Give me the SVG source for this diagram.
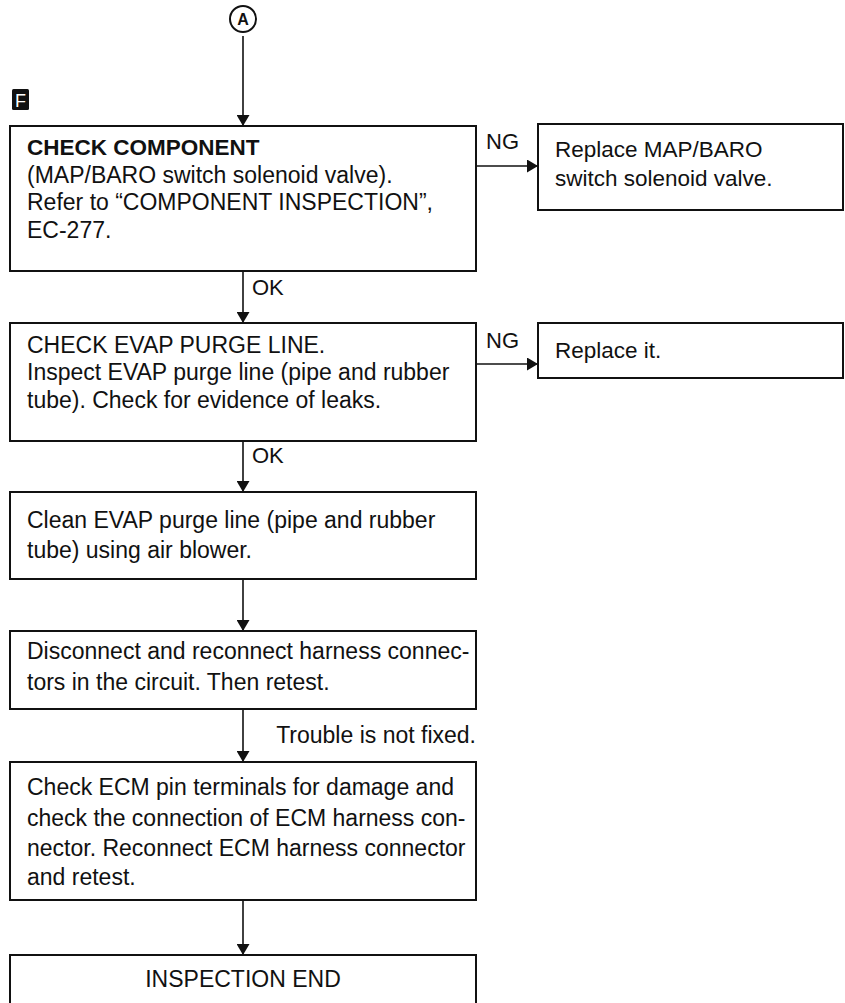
<svg xmlns="http://www.w3.org/2000/svg" width="845" height="1003" viewBox="0 0 845 1003">
<defs>
<marker id="ah" markerWidth="11" markerHeight="13" refX="11" refY="6.5" orient="auto" markerUnits="userSpaceOnUse">
<path d="M0,0 L11,6.5 L0,13 Z" fill="#111"/>
</marker>
<style>
.box{fill:#fff;stroke:#111;stroke-width:2}
.t{font-family:"Liberation Sans",Arial,sans-serif;font-size:23px;fill:#111}
.s{font-size:22px}
.b{font-weight:bold;font-size:22.5px}
.c{stroke:#111;stroke-width:1.6;fill:none}
</style>
</defs>
<rect width="845" height="1003" fill="#fff"/>
<g id="start">
<circle cx="243" cy="19" r="13" fill="#fff" stroke="#111" stroke-width="2"/>
<text x="243" y="25" text-anchor="middle" style="font-family:'Liberation Sans',Arial,sans-serif;font-weight:bold;font-size:16px;fill:#111">A</text>
</g>
<g id="badge">
<rect x="12" y="89" width="17" height="21" rx="1.5" fill="#111"/>
<text x="20.5" y="107" text-anchor="middle" style="font-family:'Liberation Sans',Arial,sans-serif;font-size:18px;fill:#fff">F</text>
</g>
<g id="connectors">
<line class="c" x1="243" y1="36" x2="243" y2="126" marker-end="url(#ah)"/>
<line class="c" x1="476" y1="166" x2="538" y2="166" marker-end="url(#ah)"/>
<line class="c" x1="243" y1="271" x2="243" y2="323" marker-end="url(#ah)"/>
<line class="c" x1="476" y1="364" x2="538" y2="364" marker-end="url(#ah)"/>
<line class="c" x1="243" y1="441" x2="243" y2="492" marker-end="url(#ah)"/>
<line class="c" x1="243" y1="579" x2="243" y2="631" marker-end="url(#ah)"/>
<line class="c" x1="243" y1="709" x2="243" y2="762" marker-end="url(#ah)"/>
<line class="c" x1="243" y1="900" x2="243" y2="955" marker-end="url(#ah)"/>
<text class="t s" x="486" y="149">NG</text>
<text class="t s" x="486" y="348">NG</text>
<text class="t s" x="252" y="295">OK</text>
<text class="t s" x="252" y="463">OK</text>
<text class="t" x="476" y="743" text-anchor="end">Trouble is not fixed.</text>
</g>
<g id="n1">
<rect class="box" x="10" y="126" width="466" height="145"/>
<text class="t b" x="27" y="155">CHECK COMPONENT</text>
<text class="t" x="27" y="183">(MAP/BARO switch solenoid valve).</text>
<text class="t" x="27" y="210">Refer to “COMPONENT INSPECTION”,</text>
<text class="t" x="27" y="238">EC-277.</text>
</g>
<g id="n1ng">
<rect class="box" x="538" y="124" width="305" height="86"/>
<text class="t" x="555" y="157" style="font-size:22.5px">Replace MAP/BARO</text>
<text class="t" x="555" y="186" style="font-size:22.5px">switch solenoid valve.</text>
</g>
<g id="n2">
<rect class="box" x="10" y="323" width="466" height="118"/>
<text class="t" x="27" y="353">CHECK EVAP PURGE LINE.</text>
<text class="t" x="27" y="380">Inspect EVAP purge line (pipe and rubber</text>
<text class="t" x="27" y="408">tube). Check for evidence of leaks.</text>
</g>
<g id="n2ng">
<rect class="box" x="538" y="323" width="305" height="55"/>
<text class="t" x="555" y="358" style="font-size:22.5px">Replace it.</text>
</g>
<g id="n3">
<rect class="box" x="10" y="492" width="466" height="87"/>
<text class="t" x="27" y="528">Clean EVAP purge line (pipe and rubber</text>
<text class="t" x="27" y="558">tube) using air blower.</text>
</g>
<g id="n4">
<rect class="box" x="10" y="631" width="466" height="78"/>
<text class="t" x="27" y="659">Disconnect and reconnect harness connec-</text>
<text class="t" x="27" y="690">tors in the circuit. Then retest.</text>
</g>
<g id="n5">
<rect class="box" x="10" y="762" width="466" height="138"/>
<text class="t" x="27" y="795">Check ECM pin terminals for damage and</text>
<text class="t" x="27" y="826">check the connection of ECM harness con-</text>
<text class="t" x="27" y="856">nector. Reconnect ECM harness connector</text>
<text class="t" x="27" y="885">and retest.</text>
</g>
<g id="n6">
<rect class="box" x="10" y="955" width="466" height="60"/>
<text class="t" x="243" y="987" text-anchor="middle">INSPECTION END</text>
</g>
</svg>
